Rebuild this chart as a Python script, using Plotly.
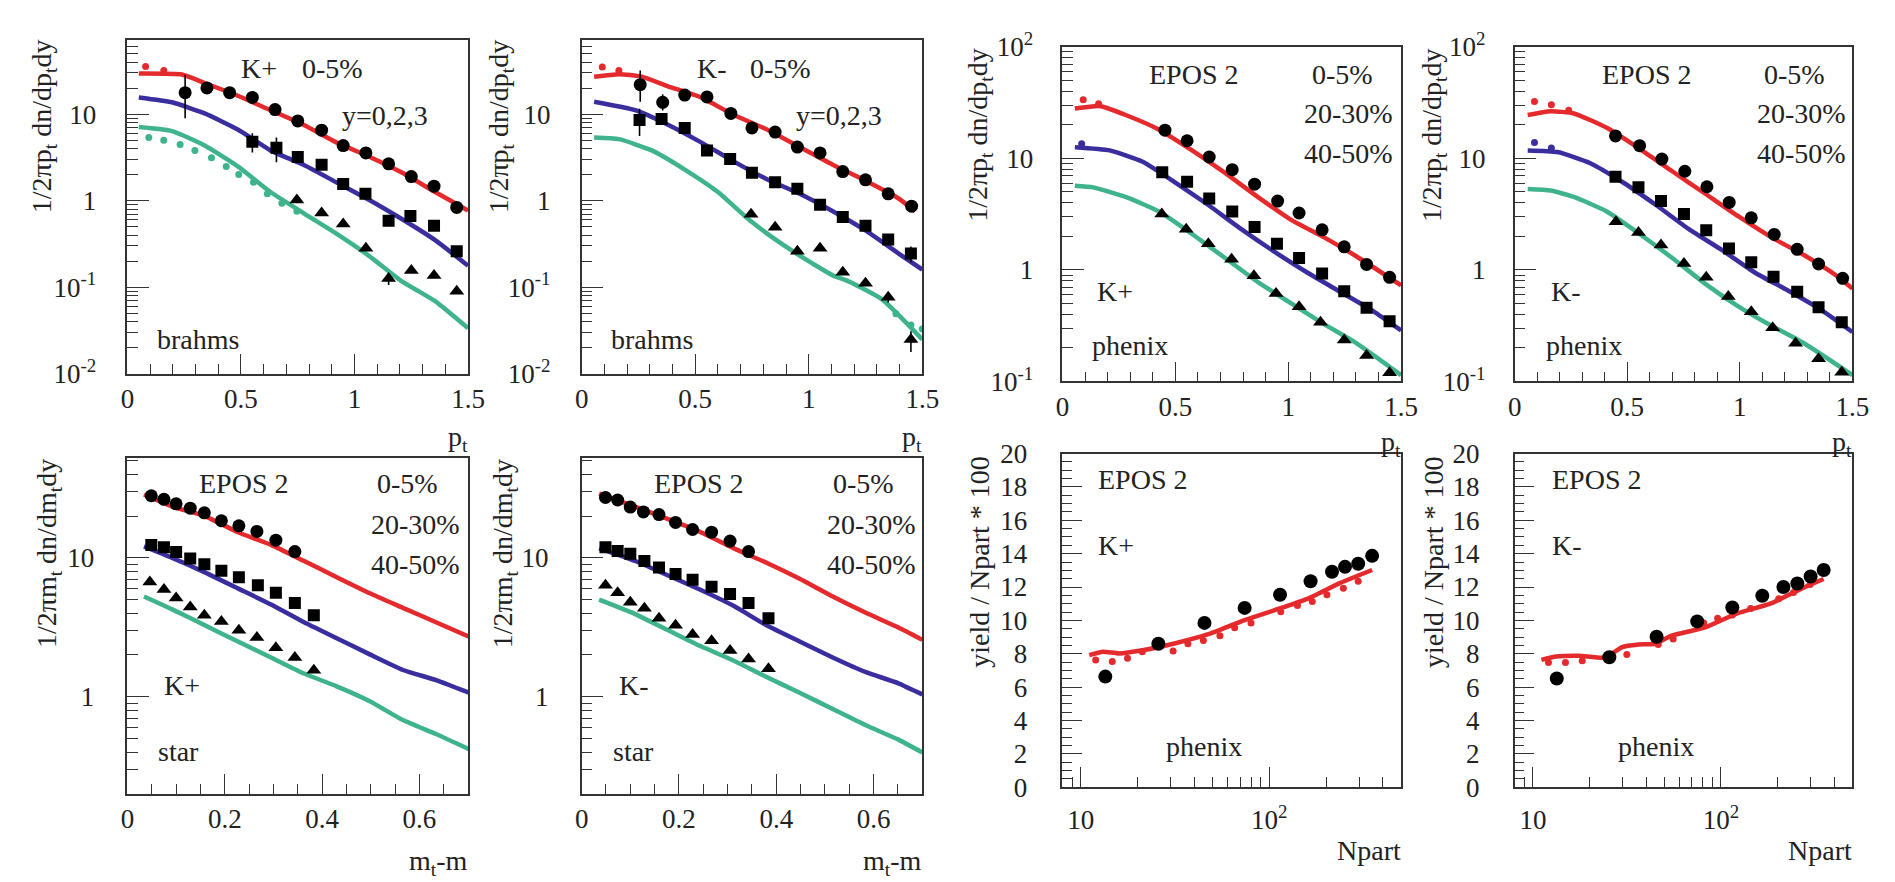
import numpy as np
import plotly.graph_objects as go

W, H = 1895, 882
FONT = "'Liberation Serif', 'DejaVu Serif', serif"
RED = "#e42a2c"
BLUE = "#3a2e9f"
GREEN = "#3fb38c"
TXT = "#222222"

# ---------------- Panel 1 : K+ brahms (pt) ----------------
p1_red_x = [0.05, 0.24, 0.34, 0.486, 0.63, 0.775, 0.92, 1.065, 1.21, 1.355, 1.5]
p1_red_y = [29.5, 28.7, 22.9, 16.3, 11.1, 7.55, 4.72, 3.22, 2.1, 1.26, 0.77]
p1_red_dx = [0.08, 0.16]
p1_red_dy = [35.6, 32.0]
p1_blue_x = [0.05, 0.196, 0.34, 0.486, 0.63, 0.775, 0.92, 1.065, 1.21, 1.355, 1.5]
p1_blue_y = [15.6, 13.7, 10.2, 6.64, 3.81, 2.6, 1.63, 1.02, 0.61, 0.35, 0.177]
p1_green_x = [0.05, 0.196, 0.34, 0.486, 0.63, 0.775, 0.92, 1.065, 1.21, 1.283, 1.355, 1.5]
p1_green_y = [7.1, 6.37, 4.34, 2.49, 1.26, 0.72, 0.416, 0.229, 0.116, 0.0896, 0.069, 0.0336]
p1_green_dx = [0.094, 0.16, 0.232, 0.297, 0.37, 0.435, 0.49, 0.555, 0.616, 0.68, 0.746]
p1_green_dy = [5.37, 5.0, 4.45, 3.81, 3.13, 2.49, 2.01, 1.63, 1.2, 0.933, 0.755]
p1_circ_x = [0.254, 0.35, 0.45, 0.55, 0.65, 0.75, 0.855, 0.95, 1.05, 1.15, 1.25, 1.35, 1.45]
p1_circ_y = [17.7, 20.1, 17.7, 15.6, 11.3, 8.36, 6.53, 4.33, 3.56, 2.67, 1.9, 1.47, 0.836]
p1_circ_eu = [10.6, 3.0, 0, 0, 0, 0, 0, 0, 0, 0, 0, 0, 0]
p1_circ_ed = [8.75, 3.0, 0, 0, 0, 0, 0, 0, 0, 0, 0, 0, 0]
p1_sq_x = [0.55, 0.656, 0.75, 0.855, 0.95, 1.048, 1.15, 1.246, 1.35, 1.45]
p1_sq_y = [4.8, 4.08, 3.2, 2.6, 1.56, 1.2, 0.585, 0.664, 0.514, 0.26]
p1_sq_e = [1.2, 1.3, 0.4, 0, 0, 0, 0.08, 0, 0, 0.04]
p1_tri_x = [0.746, 0.855, 0.95, 1.05, 1.15, 1.25, 1.35, 1.45]
p1_tri_y = [1.02, 0.72, 0.537, 0.283, 0.126, 0.156, 0.137, 0.0896]
p1_tri_e = [0, 0, 0, 0, 0.02, 0, 0, 0]

# ---------------- Panel 2 : K- brahms (pt) ----------------
p2_red_x = [0.055, 0.164, 0.265, 0.38, 0.526, 0.671, 0.816, 0.96, 1.106, 1.25, 1.396, 1.468]
p2_red_y = [27.1, 29.0, 27.1, 21.0, 15.6, 9.75, 6.64, 4.16, 2.6, 1.7, 1.06, 0.755]
p2_red_dx = [0.091, 0.164]
p2_red_dy = [35.0, 32.0]
p2_blue_x = [0.055, 0.236, 0.38, 0.526, 0.671, 0.816, 0.96, 1.106, 1.25, 1.396, 1.5]
p2_blue_y = [13.9, 11.1, 7.55, 4.72, 2.83, 1.77, 1.2, 0.755, 0.453, 0.245, 0.16]
p2_green_x = [0.055, 0.164, 0.309, 0.454, 0.6, 0.743, 0.888, 1.033, 1.106, 1.178, 1.323, 1.5]
p2_green_y = [5.37, 5.14, 3.81, 2.29, 1.26, 0.585, 0.308, 0.177, 0.137, 0.116, 0.0723, 0.0249]
p2_green_dx = [1.384, 1.45, 1.5]
p2_green_dy = [0.0493, 0.0366, 0.033]
p2_circ_x = [0.258, 0.357, 0.454, 0.552, 0.657, 0.75, 0.852, 0.95, 1.05, 1.15, 1.25, 1.35, 1.453]
p2_circ_y = [21.9, 13.7, 16.6, 15.8, 10.2, 6.93, 6.21, 4.16, 3.56, 2.17, 1.74, 1.2, 0.865]
p2_circ_eu = [10.0, 3.3, 0, 0, 0, 0, 0, 0, 0, 0, 0, 0, 0]
p2_circ_ed = [8.0, 2.7, 0, 0, 0, 0, 0, 0, 0, 0, 0, 0, 0]
p2_sq_x = [0.255, 0.352, 0.454, 0.552, 0.654, 0.75, 0.852, 0.95, 1.05, 1.15, 1.25, 1.35, 1.45]
p2_sq_y = [8.58, 8.8, 6.93, 3.81, 3.03, 2.1, 1.63, 1.37, 0.895, 0.647, 0.514, 0.356, 0.245]
p2_sq_e = [3.0, 0, 0, 0, 0.3, 0, 0, 0, 0, 0, 0, 0, 0.05]
p2_tri_x = [0.746, 0.852, 0.95, 1.05, 1.15, 1.25, 1.35, 1.45]
p2_tri_y = [0.698, 0.493, 0.26, 0.283, 0.149, 0.111, 0.0767, 0.0249]
p2_tri_eu = [0, 0, 0, 0, 0, 0, 0.01, 0.006]
p2_tri_ed = [0, 0, 0, 0, 0, 0, 0.01, 0.007]

# ---------------- Panel 3 : K+ phenix (pt) ----------------
p3_red_x = [0.055, 0.165, 0.28, 0.428, 0.574, 0.72, 0.866, 1.011, 1.157, 1.303, 1.5]
p3_red_y = [28.0, 29.5, 24.5, 18.1, 11.8, 7.41, 4.5, 2.83, 1.97, 1.32, 0.727]
p3_red_dx = [0.092, 0.16]
p3_red_dy = [33.6, 30.9]
p3_blue_x = [0.055, 0.209, 0.355, 0.5, 0.646, 0.792, 0.938, 1.084, 1.23, 1.376, 1.5]
p3_blue_y = [12.6, 11.8, 9.35, 6.08, 3.82, 2.32, 1.46, 0.948, 0.637, 0.428, 0.287]
p3_blue_dx = [0.085]
p3_blue_dy = [13.5]
p3_green_x = [0.055, 0.136, 0.282, 0.428, 0.574, 0.72, 0.866, 1.011, 1.157, 1.303, 1.5]
p3_green_y = [5.69, 5.5, 4.5, 3.34, 2.1, 1.28, 0.777, 0.505, 0.328, 0.22, 0.114]
p3_circ_x = [0.454, 0.552, 0.65, 0.752, 0.851, 0.953, 1.048, 1.15, 1.248, 1.347, 1.449]
p3_circ_y = [17.9, 14.4, 10.3, 7.92, 5.87, 4.14, 3.24, 2.29, 1.61, 1.12, 0.859]
p3_sq_x = [0.442, 0.552, 0.65, 0.752, 0.851, 0.95, 1.048, 1.15, 1.248, 1.347, 1.449]
p3_sq_y = [7.52, 6.17, 4.37, 3.35, 2.43, 1.72, 1.28, 0.929, 0.645, 0.457, 0.346]
p3_tri_x = [0.44, 0.548, 0.646, 0.749, 0.848, 0.946, 1.048, 1.143, 1.248, 1.347, 1.449]
p3_tri_y = [3.17, 2.32, 1.72, 1.25, 0.887, 0.616, 0.467, 0.339, 0.235, 0.171, 0.12]

# ---------------- Panel 4 : K- phenix (pt) ----------------
p4_red_x = [0.058, 0.16, 0.263, 0.409, 0.555, 0.7, 0.847, 0.993, 1.139, 1.285, 1.43, 1.5]
p4_red_y = [24.5, 26.5, 25.3, 18.8, 12.2, 7.67, 4.82, 3.03, 1.97, 1.36, 0.887, 0.681]
p4_red_dx = [0.088, 0.163, 0.24]
p4_red_dy = [32.4, 30.3, 27.0]
p4_blue_x = [0.058, 0.19, 0.336, 0.482, 0.628, 0.774, 0.92, 1.066, 1.212, 1.358, 1.5]
p4_blue_y = [11.8, 11.4, 9.06, 6.08, 3.82, 2.32, 1.51, 0.948, 0.658, 0.443, 0.278]
p4_blue_dx = [0.088, 0.163]
p4_blue_dy = [13.9, 12.4]
p4_green_x = [0.058, 0.16, 0.263, 0.409, 0.555, 0.7, 0.847, 0.993, 1.139, 1.285, 1.5]
p4_green_y = [5.32, 5.15, 4.51, 3.34, 2.1, 1.28, 0.751, 0.472, 0.317, 0.22, 0.114]
p4_circ_x = [0.448, 0.555, 0.654, 0.756, 0.854, 0.953, 1.051, 1.153, 1.255, 1.35, 1.457]
p4_circ_y = [15.9, 13.0, 9.86, 7.67, 5.57, 4.03, 2.93, 2.08, 1.53, 1.13, 0.841]
p4_sq_x = [0.448, 0.55, 0.65, 0.752, 0.851, 0.952, 1.051, 1.15, 1.255, 1.35, 1.453]
p4_sq_y = [6.86, 5.5, 4.14, 3.17, 2.27, 1.56, 1.17, 0.869, 0.637, 0.463, 0.339]
p4_tri_x = [0.45, 0.55, 0.65, 0.752, 0.851, 0.949, 1.051, 1.146, 1.248, 1.35, 1.453]
p4_tri_y = [2.7, 2.17, 1.67, 1.14, 0.859, 0.577, 0.422, 0.303, 0.22, 0.16, 0.121]

# ---------------- Panel 5 : K+ star (mt-m) ----------------
p5_red_x = [0.034, 0.092, 0.159, 0.227, 0.295, 0.363, 0.43, 0.498, 0.566, 0.634, 0.702]
p5_red_y = [28.6, 23.4, 20.0, 15.3, 12.4, 9.49, 7.26, 5.56, 4.37, 3.44, 2.71]
p5_blue_x = [0.034, 0.092, 0.159, 0.227, 0.295, 0.363, 0.43, 0.498, 0.566, 0.634, 0.702]
p5_blue_y = [12.1, 10.0, 7.87, 6.03, 4.62, 3.44, 2.64, 2.02, 1.56, 1.32, 1.07]
p5_green_x = [0.034, 0.092, 0.159, 0.227, 0.295, 0.363, 0.43, 0.498, 0.566, 0.634, 0.702]
p5_green_y = [5.27, 4.26, 3.27, 2.5, 1.92, 1.47, 1.19, 0.93, 0.68, 0.54, 0.42]
p5_circ_x = [0.049, 0.075, 0.1, 0.129, 0.158, 0.193, 0.229, 0.266, 0.305, 0.344]
p5_circ_y = [28.0, 26.4, 24.5, 22.8, 21.1, 18.5, 17.0, 15.5, 13.4, 11.1]
p5_sq_x = [0.049, 0.075, 0.1, 0.129, 0.158, 0.193, 0.229, 0.268, 0.305, 0.344, 0.383]
p5_sq_y = [12.4, 11.9, 11.0, 9.9, 8.99, 8.08, 7.26, 6.35, 5.62, 4.74, 3.87]
p5_tri_x = [0.046, 0.075, 0.1, 0.129, 0.158, 0.193, 0.229, 0.266, 0.305, 0.344, 0.383]
p5_tri_y = [6.7, 5.93, 5.14, 4.43, 3.87, 3.48, 3.01, 2.67, 2.25, 1.92, 1.55]

# ---------------- Panel 6 : K- star (mt-m) ----------------
p6_red_x = [0.036, 0.11, 0.178, 0.245, 0.313, 0.38, 0.448, 0.516, 0.583, 0.651, 0.7]
p6_red_y = [29.0, 23.4, 19.0, 15.3, 11.7, 9.23, 7.07, 5.27, 4.04, 3.15, 2.57]
p6_blue_x = [0.036, 0.11, 0.178, 0.245, 0.313, 0.38, 0.448, 0.516, 0.583, 0.651, 0.7]
p6_blue_y = [11.7, 9.49, 7.46, 5.87, 4.5, 3.27, 2.5, 1.92, 1.51, 1.25, 1.04]
p6_green_x = [0.036, 0.11, 0.178, 0.245, 0.313, 0.38, 0.448, 0.516, 0.583, 0.651, 0.7]
p6_green_y = [5.0, 3.94, 3.01, 2.31, 1.82, 1.39, 1.07, 0.817, 0.626, 0.492, 0.398]
p6_circ_x = [0.049, 0.074, 0.1, 0.127, 0.159, 0.193, 0.228, 0.267, 0.305, 0.343]
p6_circ_y = [27.2, 26.1, 23.2, 21.4, 20.5, 18.0, 16.0, 15.3, 13.2, 11.1]
p6_sq_x = [0.049, 0.074, 0.1, 0.129, 0.159, 0.193, 0.228, 0.267, 0.305, 0.343, 0.384]
p6_sq_y = [11.9, 11.2, 10.7, 9.49, 8.53, 7.66, 6.96, 6.19, 5.5, 4.74, 3.67]
p6_tri_x = [0.049, 0.074, 0.1, 0.129, 0.159, 0.193, 0.228, 0.267, 0.305, 0.343, 0.384]
p6_tri_y = [6.35, 5.62, 4.8, 4.34, 3.67, 3.27, 2.81, 2.53, 2.15, 1.87, 1.59]

# ---------------- Panel 7 : K+ yield vs Npart ----------------
p7_line_x = [11.1, 13.1, 16.0, 21.3, 31.8, 47.5, 71.0, 106, 159, 238, 351]
p7_line_y = [7.92, 8.12, 8.02, 8.21, 8.63, 9.17, 9.94, 10.6, 11.29, 12.25, 13.02]
p7_dot_x = [12.0, 14.7, 17.7, 21.2, 30.9, 37.0, 44.7, 54.7, 65.5, 80.0, 115, 141, 169, 202, 247, 296]
p7_dot_y = [7.63, 7.54, 7.73, 8.12, 8.17, 8.6, 8.79, 9.08, 9.56, 9.85, 10.52, 10.9, 11.13, 11.54, 11.92, 12.35]
p7_data_x = [13.5, 25.8, 45.3, 74.0, 114, 165.5, 215, 252, 296, 351]
p7_data_y = [6.63, 8.6, 9.85, 10.75, 11.54, 12.35, 12.92, 13.21, 13.4, 13.87]

# ---------------- Panel 8 : K- yield vs Npart ----------------
p8_line_x = [11.1, 13.3, 17.6, 24.3, 29.8, 36.4, 44.6, 54.6, 81.7, 122, 183, 275, 352]
p8_line_y = [7.63, 7.83, 7.88, 7.77, 8.4, 8.56, 8.6, 9.08, 9.56, 10.42, 11.0, 11.96, 12.48]
p8_dot_x = [12.1, 14.9, 18.3, 31.6, 46.4, 55.7, 81.0, 96.0, 115, 144, 203, 243, 298]
p8_dot_y = [7.48, 7.48, 7.58, 7.96, 8.56, 8.88, 9.85, 10.13, 10.33, 10.71, 11.29, 11.67, 12.15]
p8_data_x = [13.4, 25.5, 45.5, 74.8, 115, 166, 215, 255, 300, 352]
p8_data_y = [6.52, 7.79, 9.02, 9.94, 10.77, 11.48, 12.0, 12.21, 12.63, 13.02]

# ---------------- figure ----------------
fig = go.Figure()

# panel pixel boxes (left, right, top, bottom)
boxes = {
    1: (122, 467, 22, 369), 2: (582, 927, 22, 369),
    3: (1069, 1412, 29, 377), 4: (1527, 1869, 29, 377),
    5: (122, 467, 457, 806), 6: (582, 927, 457, 806),
    7: (1069, 1412, 452, 799), 8: (1527, 1869, 452, 799),
}

def ax(i):
    return ("x" if i == 1 else f"x{i}"), ("y" if i == 1 else f"y{i}")

def add_line(i, xs, ys, color):
    xa, ya = ax(i)
    fig.add_trace(go.Scatter(x=xs, y=ys, mode="lines", xaxis=xa, yaxis=ya,
                             line=dict(color=color, width=4.5, shape="spline", smoothing=0.5),
                             showlegend=False, hoverinfo="skip"))

def add_dots(i, xs, ys, color):
    xa, ya = ax(i)
    fig.add_trace(go.Scatter(x=xs, y=ys, mode="markers", xaxis=xa, yaxis=ya,
                             marker=dict(color=color, size=7, symbol="circle"),
                             showlegend=False, hoverinfo="skip"))

def add_data(i, xs, ys, symbol, size=12, eu=None, ed=None):
    xa, ya = ax(i)
    err = None
    if eu is not None:
        err = dict(type="data", symmetric=False, array=eu,
                   arrayminus=(ed if ed is not None else eu),
                   color="black", thickness=1.6, width=0)
    fig.add_trace(go.Scatter(x=xs, y=ys, mode="markers", xaxis=xa, yaxis=ya,
                             marker=dict(color="black", size=size, symbol=symbol),
                             error_y=err, showlegend=False, hoverinfo="skip"))

# panel 1
add_line(1, p1_red_x, p1_red_y, RED); add_line(1, p1_blue_x, p1_blue_y, BLUE); add_line(1, p1_green_x, p1_green_y, GREEN)
add_dots(1, p1_red_dx, p1_red_dy, RED); add_dots(1, p1_green_dx, p1_green_dy, GREEN)
add_data(1, p1_circ_x, p1_circ_y, "circle", 13, p1_circ_eu, p1_circ_ed)
add_data(1, p1_sq_x, p1_sq_y, "square", 12, p1_sq_e)
add_data(1, p1_tri_x, p1_tri_y, "triangle-up", 13, p1_tri_e)
# panel 2
add_line(2, p2_red_x, p2_red_y, RED); add_line(2, p2_blue_x, p2_blue_y, BLUE); add_line(2, p2_green_x, p2_green_y, GREEN)
add_dots(2, p2_red_dx, p2_red_dy, RED); add_dots(2, p2_green_dx, p2_green_dy, GREEN)
add_data(2, p2_circ_x, p2_circ_y, "circle", 13, p2_circ_eu, p2_circ_ed)
add_data(2, p2_sq_x, p2_sq_y, "square", 12, p2_sq_e)
add_data(2, p2_tri_x, p2_tri_y, "triangle-up", 13, p2_tri_eu, p2_tri_ed)
# panel 3
add_line(3, p3_red_x, p3_red_y, RED); add_line(3, p3_blue_x, p3_blue_y, BLUE); add_line(3, p3_green_x, p3_green_y, GREEN)
add_dots(3, p3_red_dx, p3_red_dy, RED); add_dots(3, p3_blue_dx, p3_blue_dy, BLUE)
add_data(3, p3_circ_x, p3_circ_y, "circle", 13)
add_data(3, p3_sq_x, p3_sq_y, "square", 12)
add_data(3, p3_tri_x, p3_tri_y, "triangle-up", 13)
# panel 4
add_line(4, p4_red_x, p4_red_y, RED); add_line(4, p4_blue_x, p4_blue_y, BLUE); add_line(4, p4_green_x, p4_green_y, GREEN)
add_dots(4, p4_red_dx, p4_red_dy, RED); add_dots(4, p4_blue_dx, p4_blue_dy, BLUE)
add_data(4, p4_circ_x, p4_circ_y, "circle", 13)
add_data(4, p4_sq_x, p4_sq_y, "square", 12)
add_data(4, p4_tri_x, p4_tri_y, "triangle-up", 13)
# panel 5
add_line(5, p5_red_x, p5_red_y, RED); add_line(5, p5_blue_x, p5_blue_y, BLUE); add_line(5, p5_green_x, p5_green_y, GREEN)
add_data(5, p5_circ_x, p5_circ_y, "circle", 13)
add_data(5, p5_sq_x, p5_sq_y, "square", 12)
add_data(5, p5_tri_x, p5_tri_y, "triangle-up", 13)
# panel 6
add_line(6, p6_red_x, p6_red_y, RED); add_line(6, p6_blue_x, p6_blue_y, BLUE); add_line(6, p6_green_x, p6_green_y, GREEN)
add_data(6, p6_circ_x, p6_circ_y, "circle", 13)
add_data(6, p6_sq_x, p6_sq_y, "square", 12)
add_data(6, p6_tri_x, p6_tri_y, "triangle-up", 13)
# panel 7, 8
add_line(7, p7_line_x, p7_line_y, RED); add_dots(7, p7_dot_x, p7_dot_y, RED)
add_data(7, p7_data_x, p7_data_y, "circle", 14)
add_line(8, p8_line_x, p8_line_y, RED); add_dots(8, p8_dot_x, p8_dot_y, RED)
add_data(8, p8_data_x, p8_data_y, "circle", 14)

TICKFONT = dict(family=FONT, size=27, color=TXT)

def frac_x(px):
    return px / W

def frac_y(py):
    return 1 - py / H

def log_minor(lo, hi):
    vals = []
    for d in range(lo, hi + 1):
        for k in range(2, 10):
            vals.append(k * 10.0 ** d)
    return vals

pt_ticks = dict(tickvals=[0, 0.5, 1, 1.5], ticktext=["0", "0.5", "1", "1.5"])
mt_ticks = dict(tickvals=[0, 0.2, 0.4, 0.6], ticktext=["0", "0.2", "0.4", "0.6"])

layout = dict(width=W, height=H, margin=dict(l=0, r=0, t=0, b=0),
              paper_bgcolor="white", plot_bgcolor="white", showlegend=False,
              font=dict(family=FONT, color=TXT))

MINC = dict(ticks="inside", tickcolor="#333333", tickwidth=1.3, showgrid=False)

for i, (l, r, t, b) in boxes.items():
    xk = "xaxis" if i == 1 else f"xaxis{i}"
    yk = "yaxis" if i == 1 else f"yaxis{i}"
    xa, ya = ax(i)
    base = dict(showline=True, linecolor="#333333", linewidth=1.5, mirror=True,
                ticks="inside", tickcolor="#333333", tickwidth=1.3,
                showgrid=False, zeroline=False, tickfont=TICKFONT, tickmode="array")
    xd = dict(base, domain=[frac_x(l), frac_x(r)], anchor=ya, ticklen=20, ticklabelstandoff=0)
    yd = dict(base, domain=[frac_y(b), frac_y(t)], anchor=xa, ticklen=22, ticklabelstandoff=26)
    if i in (1, 2, 3, 4):
        xd.update(range=[0, 1.5], **pt_ticks,
                  minor=dict(MINC, ticklen=10, tickmode="array",
                             tickvals=[round(0.1 * k, 2) for k in range(1, 15) if k % 5 != 0]))
    elif i in (5, 6):
        xd.update(range=[0, 0.7], **mt_ticks,
                  minor=dict(MINC, ticklen=10, tickmode="array",
                             tickvals=[round(0.05 * k, 3) for k in range(1, 14) if k % 4 != 0]))
    else:
        xd.update(type="log", range=[np.log10(8), np.log10(500)], tickvals=[10, 100],
                  ticktext=["10", "10<sup>2</sup>"], ticklabelstandoff=8,
                  minor=dict(MINC, ticklen=10, tickmode="array",
                             tickvals=[9] + [k * 10 for k in range(2, 10)] + [200, 300, 400, 500]))
    if i in (1, 2):
        yd.update(type="log", range=[-2, 1.855], tickvals=[0.01, 0.1, 1, 10],
                  ticktext=["10<sup>-2</sup>", "10<sup>-1</sup>", "1", "10"], ticklabelstandoff=24,
                  minor=dict(MINC, ticklen=11, tickmode="array", tickvals=log_minor(-2, 1)))
    elif i in (3, 4):
        yd.update(type="log", range=[-1, 2], tickvals=[0.1, 1, 10, 100],
                  ticktext=["10<sup>-1</sup>", "1", "10", "10<sup>2</sup>"], ticklabelstandoff=22,
                  minor=dict(MINC, ticklen=11, tickmode="array", tickvals=log_minor(-1, 1)))
    elif i in (5, 6):
        yd.update(type="log", range=[np.log10(0.2), np.log10(52)], tickvals=[1, 10],
                  ticktext=["1", "10"], ticklabelstandoff=26,
                  minor=dict(MINC, ticklen=11, tickmode="array", tickvals=log_minor(-1, 1)))
    else:
        yd.update(range=[0, 20], tickvals=list(range(0, 21, 2)), ticktext=[str(v) for v in range(0, 21, 2)],
                  ticklen=20, ticklabelstandoff=28,
                  minor=dict(MINC, ticklen=10, tickmode="array",
                             tickvals=[k * 0.5 for k in range(1, 40) if k % 4 != 0]))
    layout[xk] = xd
    layout[yk] = yd

fig.update_layout(**layout)

ann = []

def txt(px, py, s, size=28, xanchor="left", yanchor="middle", angle=0):
    ann.append(dict(x=frac_x(px), y=frac_y(py), xref="paper", yref="paper", text=s, showarrow=False,
                    xanchor=xanchor, yanchor=yanchor, textangle=angle,
                    font=dict(family=FONT, size=size, color=TXT)))

# panel 1
txt(235, 52, "K+"); txt(297, 52, "0-5%"); txt(337, 100, "y=0,2,3"); txt(150, 333, "brahms")
# panel 2
txt(697, 52, "K-"); txt(750, 52, "0-5%"); txt(797, 100, "y=0,2,3"); txt(610, 333, "brahms")
# panel 3
txt(1155, 58, "EPOS 2"); txt(1320, 58, "0-5%"); txt(1312, 98, "20-30%"); txt(1312, 140, "40-50%")
txt(1102, 283, "K+"); txt(1097, 340, "phenix")
# panel 4
txt(1613, 58, "EPOS 2"); txt(1778, 58, "0-5%"); txt(1770, 98, "20-30%"); txt(1770, 140, "40-50%")
txt(1562, 283, "K-"); txt(1557, 340, "phenix")
# panel 5
txt(192, 483, "EPOS 2"); txt(373, 483, "0-5%"); txt(367, 526, "20-30%"); txt(367, 567, "40-50%")
txt(157, 693, "K+"); txt(151, 762, "star")
# panel 6
txt(653, 483, "EPOS 2"); txt(835, 483, "0-5%"); txt(828, 526, "20-30%"); txt(828, 567, "40-50%")
txt(618, 693, "K-"); txt(612, 762, "star")
# panel 7
txt(1103, 479, "EPOS 2"); txt(1103, 548, "K+"); txt(1172, 757, "phenix")
# panel 8
txt(1563, 479, "EPOS 2"); txt(1563, 548, "K-"); txt(1630, 757, "phenix")

# axis titles
for (px, py) in [(469, 436), (929, 436), (1414, 441), (1871, 441)]:
    txt(px, py, "p<sub>t</sub>", 28, xanchor="right")
for px in (469, 929):
    txt(px, 877, "m<sub>t</sub>-m", 28, xanchor="right")
for px in (1414, 1871):
    txt(px, 865, "Npart", 28, xanchor="right")

ytitle_pt = "1/2πp<sub>t</sub> dn/dp<sub>t</sub>dy"
ytitle_mt = "1/2πm<sub>t</sub> dn/dm<sub>t</sub>dy"
txt(37, 112, ytitle_pt, 28, xanchor="center", angle=-90)
txt(500, 112, ytitle_pt, 28, xanchor="center", angle=-90)
txt(985, 121, ytitle_pt, 28, xanchor="center", angle=-90)
txt(1445, 121, ytitle_pt, 28, xanchor="center", angle=-90)
txt(42, 556, ytitle_mt, 28, xanchor="center", angle=-90)
txt(504, 556, ytitle_mt, 28, xanchor="center", angle=-90)
txt(985, 565, "yield / Npart * 100", 28, xanchor="center", angle=-90)
txt(1445, 565, "yield / Npart * 100", 28, xanchor="center", angle=-90)

fig.update_layout(annotations=ann)
fig.write_html("out.html")
